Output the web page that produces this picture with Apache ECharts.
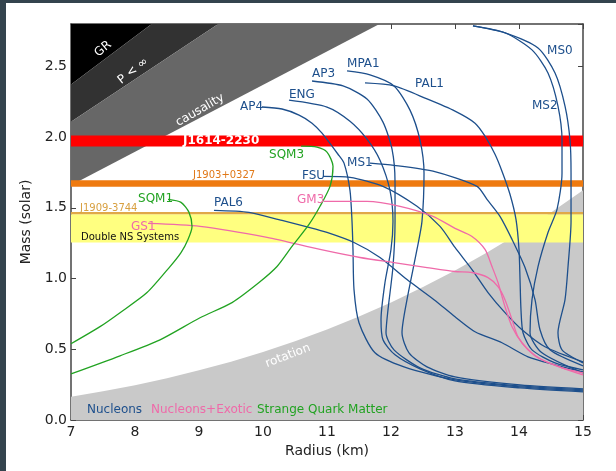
<!DOCTYPE html>
<html><head><meta charset="utf-8">
<script src="https://cdn.jsdelivr.net/npm/echarts@6/dist/echarts.min.js"></script>
<style>
html,body{margin:0;padding:0;background:#34444e;width:616px;height:471px;overflow:hidden;}
#wrap{position:absolute;left:6px;top:3px;width:610px;height:468px;background:#fff;}
#chart{position:absolute;left:0;top:0;width:616px;height:471px;}
</style></head>
<body><div id="wrap"></div><div id="chart"></div>
<script>
// ---- axis ticks ----
const xTicks = [7, 8, 9, 10, 11, 12, 13, 14, 15];
const yTicks = [0.0, 0.5, 1.0, 1.5, 2.0, 2.5];

// ---- excluded regions (boundary lines, [R, M]) ----
const grLine = [[7, 2.373], [8.26, 2.8]];
const pInfLine = [[7, 2.108], [9.30, 2.8]];
const causalLine = [[7, 1.659], [11.82, 2.8]];
const rotationEdge = [[7,0.165],[7.5,0.203],[8,0.246],[8.5,0.295],[9,0.351],[9.5,0.412],[10,0.481],[10.5,0.557],[11,0.640],[11.5,0.732],[12,0.831],[12.5,0.940],[13,1.057],[13.5,1.184],[14,1.320],[14.5,1.467],[15,1.624]];

// ---- pulsar mass bands [low, high] ----
const bandJ1614 = [1.933, 2.011];
const bandJ1903 = [1.649, 1.695];
const bandJ1909 = [1.455, 1.470];
const bandDNS = [1.255, 1.455];

// ---- nucleon EOS curves [R km, M solar] ----
const AP4 = [[9.984,2.213],[10.297,2.199],[10.563,2.156],[10.766,2.099],[10.922,2.028],[11.172,1.879],[11.266,1.816],[11.359,1.624],[11.391,1.404],[11.406,1.206],[11.422,0.922],[11.5,0.688],[11.75,0.475],[12.203,0.376],[13.0,0.284],[14.016,0.234],[15.0,0.206]];
const AP3 = [[10.766,2.397],[11.25,2.362],[11.625,2.270],[11.875,2.106],[12.016,1.915],[12.063,1.681],[12.063,1.404],[12.031,1.085],[11.953,0.780],[11.922,0.617],[12.047,0.496],[12.453,0.369],[13.0,0.291],[14.016,0.241],[15.0,0.213]];
const ENG = [[10.406,2.262],[11.0,2.213],[11.359,2.113],[11.625,1.986],[11.828,1.837],[11.984,1.624],[12.031,1.404],[12.0,1.206],[11.906,0.972],[11.844,0.709],[11.875,0.567],[12.063,0.461],[12.453,0.362],[13.0,0.277],[14.016,0.227],[15.0,0.199]];
const MPA1 = [[11.313,2.468],[11.672,2.440],[12.047,2.362],[12.297,2.191],[12.453,1.979],[12.516,1.745],[12.484,1.404],[12.406,1.206],[12.25,0.851],[12.172,0.617],[12.281,0.475],[12.563,0.376],[13.0,0.305],[14.016,0.248],[15.0,0.220]];
const PAL1 = [[11.594,2.383],[12.047,2.362],[12.563,2.270],[13.0,2.184],[13.313,2.099],[13.469,2.007],[13.625,1.879],[13.734,1.759],[13.859,1.596],[13.953,1.418],[14.0,1.206],[14.016,0.993],[14.031,0.780],[14.063,0.617],[14.203,0.496],[14.563,0.404],[15.0,0.355]];
const MS0 = [[13.281,2.787],[13.781,2.738],[14.297,2.631],[14.563,2.454],[14.719,2.220],[14.797,1.979],[14.813,1.745],[14.813,1.404],[14.766,1.085],[14.719,0.851],[14.609,0.617],[14.672,0.496],[15.0,0.404]];
const MS2 = [[13.281,2.787],[13.781,2.738],[14.203,2.617],[14.453,2.454],[14.609,2.220],[14.672,1.979],[14.672,1.745],[14.594,1.489],[14.453,1.326],[14.297,1.085],[14.203,0.851],[14.172,0.617],[14.359,0.475],[15.0,0.333]];
const MS1 = [[11.672,1.816],[12.047,1.801],[12.656,1.759],[13.344,1.652],[13.5,1.560],[13.703,1.440],[13.891,1.277],[14.094,1.078],[14.25,0.851],[14.328,0.638],[14.484,0.496],[15.0,0.383]];
const FSU = [[10.938,1.723],[11.359,1.716],[11.875,1.652],[12.406,1.511],[12.766,1.369],[13.0,1.220],[13.266,1.064],[13.516,0.901],[13.781,0.759],[14.047,0.638],[14.406,0.518],[15.0,0.411]];
const PAL6 = [[9.234,1.482],[9.781,1.468],[10.297,1.411],[10.719,1.362],[11.0,1.326],[11.422,1.255],[11.828,1.149],[12.25,0.993],[12.672,0.851],[13.0,0.730],[13.313,0.624],[13.734,0.546],[14.141,0.447],[14.563,0.390],[15.0,0.340]];
// ---- nucleons + exotic ----
const GM3 = [[10.953,1.546],[11.625,1.546],[12.141,1.511],[12.656,1.440],[13.0,1.355],[13.266,1.298],[13.469,1.206],[13.578,1.085],[13.672,0.972],[13.781,0.801],[13.891,0.660],[14.047,0.546],[14.297,0.440],[14.672,0.369],[15.0,0.319]];
const GS1 = [[8.203,1.390],[9.016,1.369],[10.063,1.291],[10.891,1.206],[11.516,1.149],[12.047,1.113],[12.563,1.078],[13.0,1.050],[13.266,1.043],[13.516,1.007],[13.672,0.943],[13.781,0.851],[13.891,0.709],[13.984,0.589],[14.141,0.496],[14.359,0.426],[14.672,0.369],[15.0,0.333]];
// ---- strange quark matter ----
const SQM1 = [[8.516,1.560],[8.719,1.539],[8.844,1.468],[8.891,1.369],[8.828,1.277],[8.719,1.184],[8.547,1.085],[8.188,0.901],[7.766,0.759],[7.453,0.660],[7.0,0.539]];
const SQM3 = [[10.594,1.936],[10.844,1.929],[11.0,1.894],[11.094,1.794],[11.047,1.652],[10.891,1.511],[10.719,1.383],[10.453,1.227],[10.219,1.085],[9.938,0.972],[9.516,0.830],[9.016,0.723],[8.391,0.567],[7.766,0.454],[7.0,0.326]];

const BLUE = '#1d4f8c', PINK = '#ef6aa9', GREEN = '#22a322';
const FONT = 'DejaVu Sans';

// ---- annotations (text, anchor R, anchor M) ----
const labels = [
  {t:'AP4', r:9.64, m:2.213, c:BLUE}, {t:'ENG', r:10.406, m:2.298, c:BLUE},
  {t:'AP3', r:10.766, m:2.447, c:BLUE}, {t:'MPA1', r:11.313, m:2.518, c:BLUE},
  {t:'PAL1', r:12.375, m:2.376, c:BLUE}, {t:'MS0', r:14.438, m:2.610, c:BLUE},
  {t:'MS2', r:14.203, m:2.220, c:BLUE}, {t:'MS1', r:11.313, m:1.816, c:BLUE},
  {t:'FSU', r:10.609, m:1.723, c:BLUE}, {t:'GM3', r:10.531, m:1.553, c:PINK},
  {t:'SQM3', r:10.094, m:1.872, c:GREEN}, {t:'PAL6', r:9.234, m:1.532, c:BLUE},
  {t:'SQM1', r:8.047, m:1.560, c:GREEN}, {t:'GS1', r:7.938, m:1.362, c:PINK},
  {t:'J1614-2230', r:8.75, m:1.972, c:'#ffffff', w:'bold'},
  {t:'J1903+0327', r:8.906, m:1.730, c:'#e07818', s:10},
  {t:'J1909-3744', r:7.141, m:1.496, c:'#d8a040', s:10},
  {t:'Double NS Systems', r:7.156, m:1.291, c:'#111111', s:10},
  {t:'Nucleons', r:7.25, m:0.071, c:BLUE},
  {t:'Nucleons+Exotic', r:8.25, m:0.071, c:PINK},
  {t:'Strange Quark Matter', r:9.906, m:0.071, c:GREEN},
  {t:'GR', r:7.5, m:2.624, c:'#ffffff', rot:40, a:'center'},
  {t:'P < \u221e', r:7.969, m:2.468, c:'#ffffff', rot:38, a:'center'},
  {t:'causality', r:9.016, m:2.191, c:'#ffffff', rot:30, a:'center'},
  {t:'rotation', r:10.39, m:0.454, c:'#ffffff', rot:21, a:'center'}
];

function poly(points, color, z) {
  return {type:'custom', z:z, silent:true, clip:true, data:[points[0]],
    renderItem:function(p, api){
      return {type:'polygon', shape:{points:points.map(function(q){return api.coord(q);})}, style:{fill:color}};
    }};
}
function band(b, color, z) {
  return poly([[7,b[0]],[15,b[0]],[15,b[1]],[7,b[1]]], color, z);
}
const yTop = 2.8;
const grPoly = [grLine[0], grLine[1], [7, yTop]];
const pPoly = [pInfLine[0], pInfLine[1], grLine[1], grLine[0]];
const cPoly = [causalLine[0], causalLine[1], pInfLine[1], pInfLine[0]];
const rotPoly = rotationEdge.concat([[15,0],[7,0]]);

function curve(name, data, color) {
  return {type:'line', name:name, data:data, showSymbol:false, symbol:'none', smooth:0.25,
    lineStyle:{color:color, width:1.3}, z:5, silent:true, clip:true};
}

const textSeries = {type:'custom', z:10, silent:true, clip:false,
  data: labels.map(function(l){return [l.r, l.m];}),
  renderItem:function(p, api){
    const l = labels[p.dataIndex]; const c = api.coord([l.r, l.m]);
    return {type:'text', x:c[0], y:c[1], rotation:(l.rot||0)*Math.PI/180,
      style:{text:l.t, fill:l.c, fontSize:l.s||12, fontFamily:FONT, fontWeight:l.w||'normal',
        align:l.a||'left', verticalAlign:'middle'}};
  }};

const axisCommon = {type:'value', min:7, max:15, interval:1,
  axisLine:{show:true, onZero:false, lineStyle:{color:'#444', width:1.5}},
  axisTick:{show:true, inside:true, length:5, lineStyle:{color:'#444', width:1}},
  splitLine:{show:false}};

const chart = echarts.init(document.getElementById('chart'), null, {renderer:'canvas'});
chart.setOption({
  animation:false,
  textStyle:{fontFamily:FONT},
  grid:{left:71, right:33, top:24, bottom:51, containLabel:false},
  xAxis:[
    Object.assign({}, axisCommon, {position:'bottom', name:'Radius (km)', nameLocation:'middle', nameGap:24,
      nameTextStyle:{fontSize:14, color:'#222', fontFamily:FONT},
      axisLabel:{color:'#222', fontSize:14, margin:5, fontFamily:FONT,
        formatter:function(v){return xTicks.indexOf(v) >= 0 ? String(v) : '';}}}),
    Object.assign({}, axisCommon, {position:'top', axisLabel:{show:false}})
  ],
  yAxis:[
    {type:'value', min:0, max:2.8, interval:0.5, position:'left',
      axisLine:{show:true, onZero:false, lineStyle:{color:'#444', width:1.5}},
      axisTick:{show:true, inside:true, length:5, lineStyle:{color:'#444'}},
      splitLine:{show:false},
      name:'Mass (solar)', nameLocation:'middle', nameGap:38, nameRotate:90,
      nameTextStyle:{fontSize:14, color:'#222', fontFamily:FONT},
      axisLabel:{color:'#222', fontSize:14, margin:4, fontFamily:FONT, showMaxLabel:false,
        formatter:function(v){return yTicks.indexOf(v) >= 0 ? v.toFixed(1) : '';}}},
    {type:'value', min:0, max:2.8, interval:0.5, position:'right',
      axisLine:{show:true, onZero:false, lineStyle:{color:'#444', width:1.5}},
      axisTick:{show:true, inside:true, length:5, lineStyle:{color:'#444'}},
      splitLine:{show:false}, axisLabel:{show:false}}
  ],
  series:[
    poly(grPoly, '#000000', 1),
    poly(pPoly, '#323232', 1),
    poly(cPoly, '#676767', 1),
    poly(rotPoly, '#c9c9c9', 1),
    band(bandDNS, '#ffff80', 2),
    band(bandJ1909, '#e0a848', 2),
    band(bandJ1903, '#ee7a10', 2),
    band(bandJ1614, '#ff0000', 2),
    curve('AP4', AP4, BLUE), curve('AP3', AP3, BLUE), curve('ENG', ENG, BLUE),
    curve('MPA1', MPA1, BLUE), curve('PAL1', PAL1, BLUE), curve('MS0', MS0, BLUE),
    curve('MS2', MS2, BLUE), curve('MS1', MS1, BLUE), curve('FSU', FSU, BLUE),
    curve('PAL6', PAL6, BLUE), curve('GM3', GM3, PINK), curve('GS1', GS1, PINK),
    curve('SQM1', SQM1, GREEN), curve('SQM3', SQM3, GREEN),
    textSeries
  ]
});
</script></body></html>
